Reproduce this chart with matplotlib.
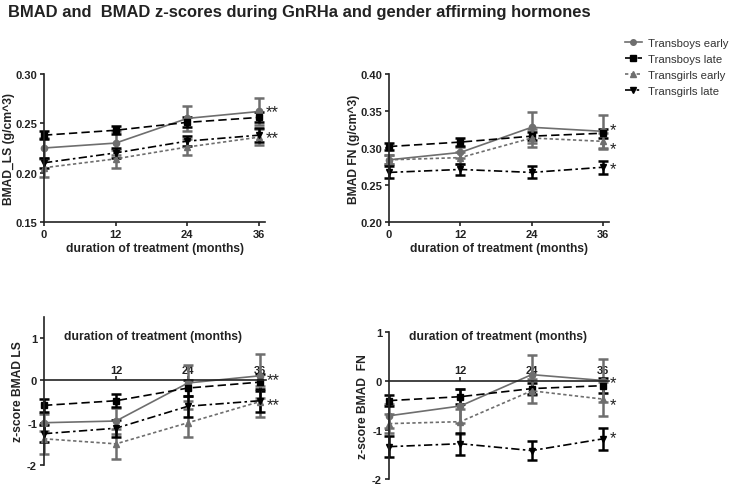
import matplotlib.pyplot as plt
from matplotlib.lines import Line2D

plt.rcParams['font.family'] = ['Liberation Sans', 'DejaVu Sans']

# data
months = [0, 12, 24, 36]
series_names = ["Transboys early", "Transboys late", "Transgirls early", "Transgirls late"]

ls_tb_early = [0.225, 0.230, 0.255, 0.262]
ls_tb_late = [0.238, 0.243, 0.251, 0.256]
ls_tg_early = [0.205, 0.214, 0.226, 0.236]
ls_tg_late = [0.210, 0.220, 0.232, 0.238]
ls_err = [[0.010, 0.012, 0.013, 0.014], [0.004, 0.004, 0.005, 0.005],
          [0.009, 0.009, 0.008, 0.008], [0.005, 0.005, 0.005, 0.007]]

fn_tb_early = [0.284, 0.294, 0.328, 0.3225]
fn_tb_late = [0.302, 0.308, 0.316, 0.320]
fn_tg_early = [0.284, 0.287, 0.3135, 0.309]
fn_tg_late = [0.267, 0.271, 0.267, 0.274]
fn_err = [[0.006, 0.007, 0.021, 0.022], [0.005, 0.005, 0.005, 0.006],
          [0.006, 0.008, 0.012, 0.011], [0.008, 0.008, 0.008, 0.009]]

zls_tb_early = [-1.0, -0.96, -0.06, 0.11]
zls_tb_late = [-0.59, -0.48, -0.18, -0.04]
zls_tg_early = [-1.38, -1.5, -1.0, -0.5]
zls_tg_late = [-1.26, -1.13, -0.61, -0.48]
zls_err = [[0.2, 0.3, 0.43, 0.52], [0.15, 0.15, 0.2, 0.2],
           [0.35, 0.35, 0.33, 0.37], [0.2, 0.2, 0.25, 0.27]]

zfn_tb_early = [-0.71, -0.51, 0.13, 0.01]
zfn_tb_late = [-0.40, -0.32, -0.155, -0.095]
zfn_tg_early = [-0.87, -0.83, -0.2, -0.37]
zfn_tg_late = [-1.34, -1.28, -1.42, -1.18]
zfn_err = [[0.25, 0.35, 0.41, 0.43], [0.12, 0.15, 0.12, 0.15],
           [0.2, 0.25, 0.25, 0.35], [0.22, 0.22, 0.2, 0.22]]

# significance stars at 36 months: (y, text)
ls_stars = [(0.2666, "**"), (0.240, "**")]
fn_stars = [(0.331, "*"), (0.305, "*"), (0.278, "*")]
zls_stars = [(0.12, "**"), (-0.47, "**")]
zfn_stars = [(0.06, "*"), (-0.39, "*"), (-1.07, "*")]

styles = [
    dict(color="#6e6e6e", ls="-", marker="o", ms=4.5),
    dict(color="black", ls=(0, (5, 2.5)), marker="s", ms=4.5),
    dict(color="#6e6e6e", ls=(0, (2, 1.5)), marker="^", ms=4.5),
    dict(color="black", ls=(0, (5, 2, 1.5, 2)), marker="v", ms=4.5),
]

W, H = 729, 485
fig = plt.figure(figsize=(W / 100, H / 100), dpi=100)


def box(x0, x1, ytop, ybot):
    return [x0 / W, 1 - ybot / H, (x1 - x0) / W, (ybot - ytop) / H]


def draw(ax, ys, errs, stars):
    for y, e, st in zip(ys, errs, styles):
        ax.errorbar(months, y, yerr=e, color=st["color"], ls=st["ls"],
                    marker=st["marker"], ms=st["ms"], lw=1.2,
                    elinewidth=1.8, capsize=3.5, capthick=1.8, clip_on=False)
    for yv, s in stars:
        # asterisk glyph sits high in the line, so drop the baseline a little
        ax.annotate(s, (37, yv), xytext=(0.5, -6.5), textcoords="offset points",
                    fontsize=12, ha="left", va="baseline", color="#222222",
                    annotation_clip=False)
    ax.set_xlim(0, 37)


tick_kw = dict(labelsize=8, width=1.2, length=3, colors="#222222", pad=2)
lab_kw = dict(fontsize=8.7, fontweight="bold", color="#222222")

# top-left
ax1 = fig.add_axes(box(44, 265, 75, 223))
draw(ax1, [ls_tb_early, ls_tb_late, ls_tg_early, ls_tg_late], ls_err, ls_stars)
ax1.set_ylim(0.15, 0.30)
ax1.set_yticks([0.15, 0.20, 0.25, 0.30])
ax1.set_yticklabels(["0.15", "0.20", "0.25", "0.30"], fontweight="bold")
ax1.set_xticks(months)
ax1.set_xticklabels(["0", "12", "24", "36"], fontweight="bold")
ax1.set_ylabel("BMAD_LS (g/cm^3)", labelpad=0, **lab_kw)
ax1.set_xlabel("duration of treatment (months)", labelpad=2, **lab_kw)

# top-right
ax2 = fig.add_axes(box(389, 609, 75, 223))
draw(ax2, [fn_tb_early, fn_tb_late, fn_tg_early, fn_tg_late], fn_err, fn_stars)
ax2.set_ylim(0.20, 0.40)
ax2.set_yticks([0.20, 0.25, 0.30, 0.35, 0.40])
ax2.set_yticklabels(["0.20", "0.25", "0.30", "0.35", "0.40"], fontweight="bold")
ax2.set_xticks(months)
ax2.set_xticklabels(["0", "12", "24", "36"], fontweight="bold")
ax2.set_ylabel("BMAD FN (g/cm^3)", labelpad=0, **lab_kw)
ax2.set_xlabel("duration of treatment (months)", labelpad=2, **lab_kw)

# bottom-left
ax3 = fig.add_axes(box(44, 266, 318, 466))
draw(ax3, [zls_tb_early, zls_tb_late, zls_tg_early, zls_tg_late], zls_err, zls_stars)
ax3.set_ylim(-2, 1.5)
ax3.set_yticks([-2, -1, 0, 1])
ax3.set_yticklabels(["-2", "-1", "0", "1"], fontweight="bold")
ax3.set_ylabel("z-score BMAD LS", labelpad=2, **lab_kw)

# bottom-right
ax4 = fig.add_axes(box(389, 609, 333, 480))
draw(ax4, [zfn_tb_early, zfn_tb_late, zfn_tg_early, zfn_tg_late], zfn_err, zfn_stars)
ax4.set_ylim(-2, 1)
ax4.set_yticks([-2, -1, 0, 1])
ax4.set_yticklabels(["-2", "-1", "0", "1"], fontweight="bold")
ax4.set_ylabel("z-score BMAD  FN", labelpad=2, **lab_kw)

for ax in (ax1, ax2):
    ax.spines["top"].set_visible(False)
    ax.spines["right"].set_visible(False)
    ax.tick_params(**tick_kw)

# z-score panels: x axis drawn along zero, labels above it
for ax, lx, ly in ((ax3, 0.49, 0.872), (ax4, 0.495, 0.973)):
    ax.spines["right"].set_visible(False)
    ax.spines["bottom"].set_visible(False)
    ax.spines["top"].set_position(("data", 0))
    ax.xaxis.set_ticks_position("top")
    ax.set_xticks([12, 24, 36])
    ax.set_xticklabels(["12", "24", "36"], fontweight="bold")
    ax.tick_params(**tick_kw)
    ax.tick_params(axis="x", pad=1)
    ax.text(lx, ly, "duration of treatment (months)", transform=ax.transAxes,
            ha="center", va="center", **lab_kw)

for ax in (ax1, ax2, ax3, ax4):
    for sp in ax.spines.values():
        sp.set_linewidth(1.2)
        sp.set_color("#222222")

handles = [Line2D([], [], color=st["color"], ls=st["ls"], marker=st["marker"],
                  ms=4, lw=1.2) for st in styles]
fig.legend(handles, series_names, loc="upper left", bbox_to_anchor=(620 / W, 1 - 34 / H),
           frameon=False, fontsize=8.2, handlelength=1.5, labelspacing=0.55,
           handletextpad=0.6, borderaxespad=0, labelcolor="#333333")

fig.text(8 / W, 1 - 13 / H, "BMAD and  BMAD z-scores during GnRHa and gender affirming hormones",
         fontsize=11.9, fontweight="bold", color="#222222", ha="left", va="center")

fig.savefig("out.png", dpi=100)
